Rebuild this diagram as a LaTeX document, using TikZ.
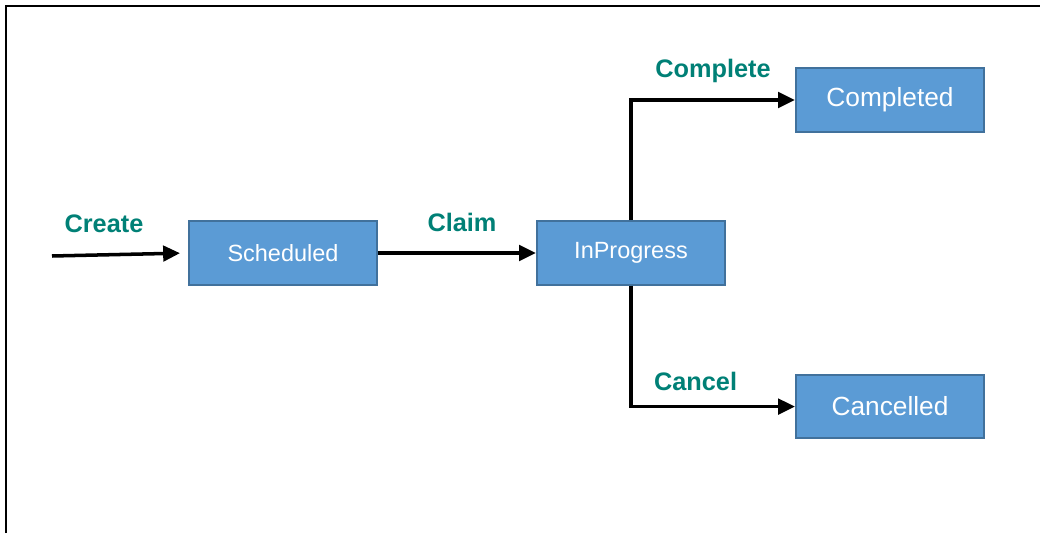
\documentclass[tikz,border=0pt]{standalone}
\usepackage{fontspec}
\setmainfont{Liberation Sans}
\usetikzlibrary{arrows.meta}
\definecolor{boxblue}{RGB}{91,155,213}
\definecolor{boxedge}{RGB}{65,113,156}
\definecolor{teal}{RGB}{0,128,118}
\begin{document}
\begin{tikzpicture}[line width=2.5pt,>={Triangle[length=12pt,width=11pt]},
  state/.style={draw=boxedge, line width=1.4pt, fill=boxblue, text=white, shape=rectangle,
    minimum width=4.7cm, minimum height=1.58cm, inner sep=0pt},
  act/.style={text=teal, font=\fontsize{18}{20}\selectfont\bfseries}]
\useasboundingbox (0,0) rectangle (26,13.325);
\draw[line width=1.6pt] (0.15,0) -- (0.15,13.175) -- (26,13.175);
\draw (7.075, 7.0) node[state, font=\fontsize{16.7}{18}\selectfont] (a) {Scheduled};
\draw (15.775, 7.0) node[state, font=\fontsize{16.7}{18}\selectfont] (b) {InProgress};
\draw (22.25, 10.825) node[state, font=\fontsize{18.7}{20}\selectfont] (c) {Completed};
\draw (22.25, 3.16) node[state, font=\fontsize{18.7}{20}\selectfont] (d) {Cancelled};
\coordinate (s) at (1.3, 6.925);
\draw (2.6, 7.725) node[act] (l1) {Create};
\draw (11.55, 7.775) node[act] (l2) {Claim};
\draw (17.825, 11.55) node[act] (l3) {Complete};
\draw (17.39, 3.8) node[act] (l4) {Cancel};
\draw[->, shorten >=0.2cm] (s) -- (a.west);
\draw[->] (a) -- (b);
\draw[->] (b.north) |- (c.west);
\draw[->] (b.south) |- (d.west);
\end{tikzpicture}
\end{document}
